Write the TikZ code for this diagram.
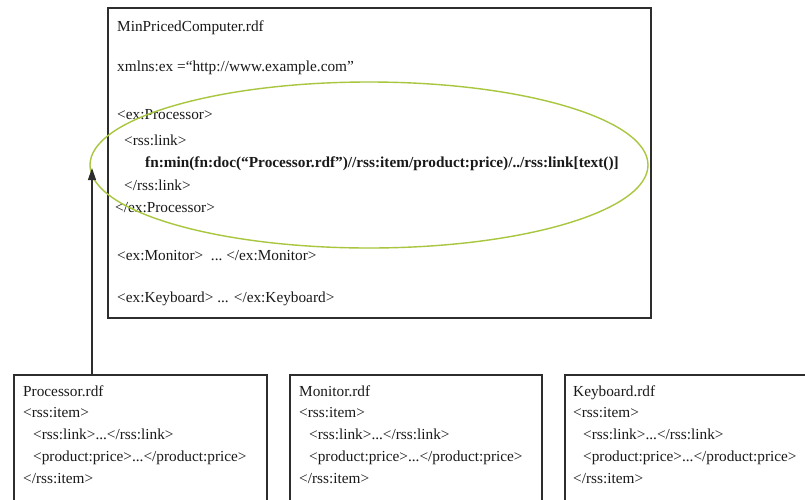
\documentclass[tikz,border=0pt]{standalone}
\usepackage{fontspec}
\setmainfont{Liberation Serif}
\usetikzlibrary{arrows.meta}
\definecolor{frame}{RGB}{45,45,45}
\definecolor{ink}{RGB}{25,25,25}
\definecolor{mark}{RGB}{168,198,62}
\tikzset{
  filebox/.style={draw=frame, line width=1.6pt, fill=white, inner sep=0pt, anchor=north west},
  code/.style={anchor=base west, inner sep=0pt, text=ink, font=\fontsize{15.3}{18}\selectfont},
  boldcode/.style={code, font=\fontsize{15.3}{18}\selectfont\bfseries},
  hl/.style={draw=mark, line width=1.4pt},
  link/.style={draw=frame, line width=1.2pt, -{Triangle[length=12pt,width=8pt]}}
}
\begin{document}
\begin{tikzpicture}[x=1pt,y=-1pt]
\clip (0,0) rectangle (805,499);
\fill[white] (0,0) rectangle (805,499);

% main query document
\node[filebox, minimum width=543pt, minimum height=310pt] (main) at (107,7) {};
\node[code] (m1) at (117,31) {MinPricedComputer.rdf};
\node[code] (m2) at (117,71) {xmlns:ex =“http://www.example.com”};
\node[code] (m3) at (117,119) {<ex:Processor>};
\node[code] (m4) at (124,145) {<rss:link>};
\node[boldcode] (m5) at (145,167) {fn:min(fn:doc(“Processor.rdf”)//rss:item/product:price)/../rss:link[text()]};
\node[code] (m6) at (124,190) {</rss:link>};
\node[code] (m7) at (115,212) {</ex:Processor>};
\node[code] (m8) at (117,260) {<ex:Monitor>\ \ ...\ </ex:Monitor>};
\node[code] (m9) at (117,302) {<ex:Keyboard> ... </ex:Keyboard>};

% highlighted query expression
\draw[hl] (369,165) ellipse [x radius=279, y radius=83];

% source feeds
\node[filebox, minimum width=253pt, minimum height=150pt] (proc) at (13,374) {};
\node[filebox, minimum width=252pt, minimum height=150pt] (mon) at (289,374) {};
\node[filebox, minimum width=260pt, minimum height=150pt] (kbd) at (564,374) {};

\foreach \b/\t/\x in {p/Processor.rdf/23, m/Monitor.rdf/299, k/Keyboard.rdf/573} {
  \node[code] (\b1) at (\x,396) {\t};
  \node[code] (\b2) at (\x,417) {<rss:item>};
  \node[code] (\b3) at (\x+10,439) {<rss:link>...</rss:link>};
  \node[code] (\b4) at (\x+10,461) {<product:price>...</product:price>};
  \node[code] (\b5) at (\x,483) {</rss:item>};
}

% reference from the processor feed into the query
\coordinate (tip) at (92,168);
\draw[link] (tip |- proc.north) -- (tip);
\end{tikzpicture}
\end{document}
